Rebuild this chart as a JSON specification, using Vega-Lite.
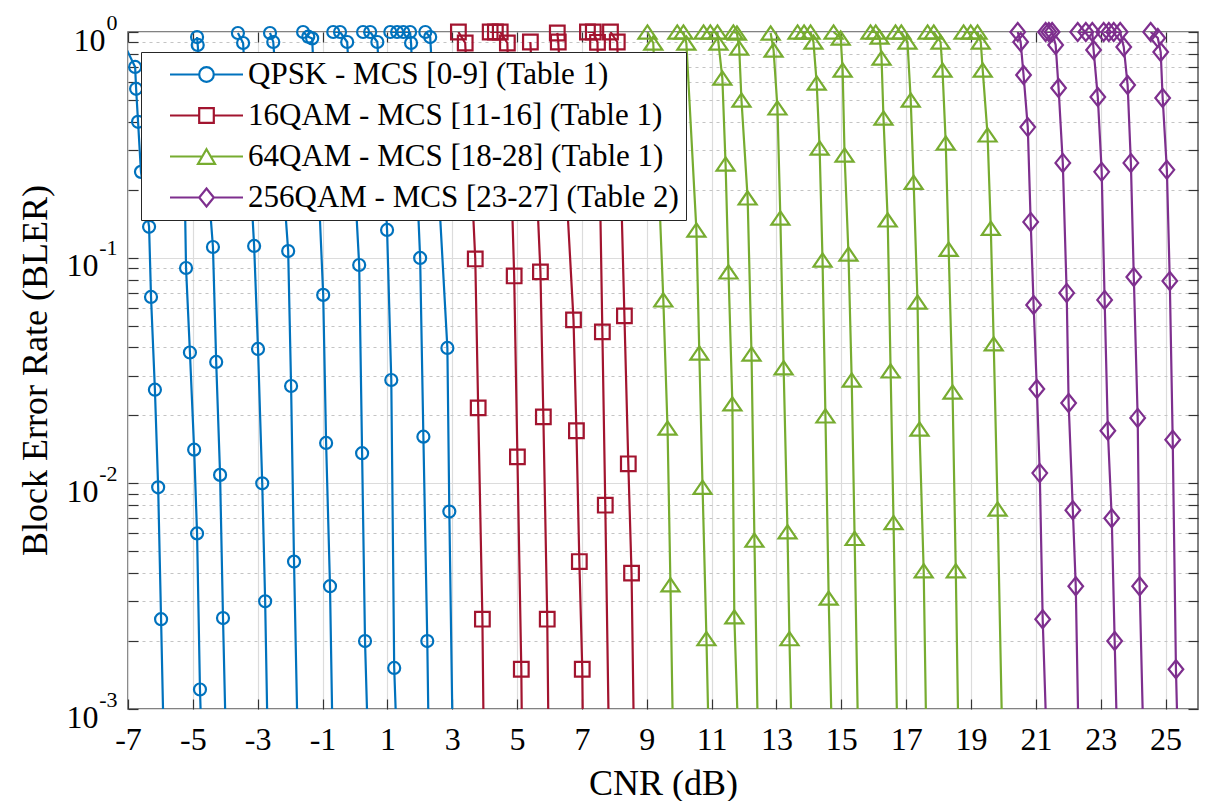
{
 "$schema": "https://vega.github.io/schema/vega-lite/v6.json",
 "width": 1070,
 "height": 677,
 "autosize": {"type": "none"},
 "padding": {"left": 128, "top": 32, "right": 12, "bottom": 92},
 "background": "white",
 "config": {"font": "Liberation Serif", "view": {"stroke": "#5a5a5a", "strokeWidth": 1.5}},
 "data": {"values": [
  {"c":"Q0","m":"QPSK","x":-7.15,"y":0.9},{"c":"Q0","m":"QPSK","x":-6.78,"y":0.70},{"c":"Q0","m":"QPSK","x":-6.75,"y":0.56},{"c":"Q0","m":"QPSK","x":-6.69,"y":0.40},{"c":"Q0","m":"QPSK","x":-6.60,"y":0.24},{"c":"Q0","m":"QPSK","x":-6.35,"y":0.137},{"c":"Q0","m":"QPSK","x":-6.29,"y":0.067},{"c":"Q0","m":"QPSK","x":-6.17,"y":0.026},{"c":"Q0","m":"QPSK","x":-6.07,"y":0.0096},{"c":"Q0","m":"QPSK","x":-5.98,"y":0.0025},{"c":"Q0","m":"QPSK","x":-5.86,"y":0.0004},
  {"c":"Q1","m":"QPSK","x":-5.25,"y":0.2},{"c":"Q1","m":"QPSK","x":-5.21,"y":0.090},{"c":"Q1","m":"QPSK","x":-5.09,"y":0.038},{"c":"Q1","m":"QPSK","x":-4.96,"y":0.0141},{"c":"Q1","m":"QPSK","x":-4.87,"y":0.006},{"c":"Q1","m":"QPSK","x":-4.78,"y":0.00122},{"c":"Q1","m":"QPSK","x":-4.68,"y":0.0004},
  {"c":"Q2","m":"QPSK","x":-4.87,"y":0.95},{"c":"Q2","m":"QPSK","x":-4.85,"y":0.876},{"c":"Q2","m":"QPSK","x":-4.38,"y":0.1115},{"c":"Q2","m":"QPSK","x":-4.28,"y":0.0345},{"c":"Q2","m":"QPSK","x":-4.16,"y":0.0109},{"c":"Q2","m":"QPSK","x":-4.07,"y":0.00253},{"c":"Q2","m":"QPSK","x":-3.94,"y":0.0004},
  {"c":"Q3","m":"QPSK","x":-3.61,"y":0.99},{"c":"Q3","m":"QPSK","x":-3.45,"y":0.894},{"c":"Q3","m":"QPSK","x":-3.11,"y":0.1127},{"c":"Q3","m":"QPSK","x":-2.99,"y":0.0394},{"c":"Q3","m":"QPSK","x":-2.86,"y":0.01},{"c":"Q3","m":"QPSK","x":-2.77,"y":0.003},{"c":"Q3","m":"QPSK","x":-2.66,"y":0.0004},
  {"c":"Q4","m":"QPSK","x":-2.62,"y":0.99},{"c":"Q4","m":"QPSK","x":-2.52,"y":0.903},{"c":"Q4","m":"QPSK","x":-2.06,"y":0.107},{"c":"Q4","m":"QPSK","x":-1.97,"y":0.027},{"c":"Q4","m":"QPSK","x":-1.88,"y":0.0045},{"c":"Q4","m":"QPSK","x":-1.73,"y":0.0004},
  {"c":"Q5","m":"QPSK","x":-1.6,"y":1},{"c":"Q5","m":"QPSK","x":-1.44,"y":0.953},{"c":"Q5","m":"QPSK","x":-1.32,"y":0.937},{"c":"Q5","m":"QPSK","x":-0.98,"y":0.0684},{"c":"Q5","m":"QPSK","x":-0.89,"y":0.0151},{"c":"Q5","m":"QPSK","x":-0.77,"y":0.0035},{"c":"Q5","m":"QPSK","x":-0.66,"y":0.0004},
  {"c":"Q6","m":"QPSK","x":-0.67,"y":1},{"c":"Q6","m":"QPSK","x":-0.46,"y":1},{"c":"Q6","m":"QPSK","x":-0.24,"y":0.903},{"c":"Q6","m":"QPSK","x":0.13,"y":0.0928},{"c":"Q6","m":"QPSK","x":0.22,"y":0.0136},{"c":"Q6","m":"QPSK","x":0.31,"y":0.002},{"c":"Q6","m":"QPSK","x":0.45,"y":0.0004},
  {"c":"Q7","m":"QPSK","x":0.25,"y":1},{"c":"Q7","m":"QPSK","x":0.47,"y":1},{"c":"Q7","m":"QPSK","x":0.69,"y":0.903},{"c":"Q7","m":"QPSK","x":0.99,"y":0.1327},{"c":"Q7","m":"QPSK","x":1.12,"y":0.0287},{"c":"Q7","m":"QPSK","x":1.21,"y":0.00152},{"c":"Q7","m":"QPSK","x":1.35,"y":0.0004},
  {"c":"Q8","m":"QPSK","x":1.09,"y":1},{"c":"Q8","m":"QPSK","x":1.3,"y":1},{"c":"Q8","m":"QPSK","x":1.49,"y":1},{"c":"Q8","m":"QPSK","x":1.7,"y":1},{"c":"Q8","m":"QPSK","x":1.73,"y":0.894},{"c":"Q8","m":"QPSK","x":2.01,"y":0.0997},{"c":"Q8","m":"QPSK","x":2.11,"y":0.0161},{"c":"Q8","m":"QPSK","x":2.23,"y":0.002},{"c":"Q8","m":"QPSK","x":2.3,"y":0.0004},
  {"c":"Q9","m":"QPSK","x":2.17,"y":1},{"c":"Q9","m":"QPSK","x":2.32,"y":0.95},{"c":"Q9","m":"QPSK","x":2.85,"y":0.0398},{"c":"Q9","m":"QPSK","x":2.91,"y":0.0075},{"c":"Q9","m":"QPSK","x":3.04,"y":0.0004},
  {"c":"R0","m":"16QAM","x":3.19,"y":1},{"c":"R0","m":"16QAM","x":3.4,"y":0.894},{"c":"R0","m":"16QAM","x":3.71,"y":0.0987},{"c":"R0","m":"16QAM","x":3.8,"y":0.0216},{"c":"R0","m":"16QAM","x":3.93,"y":0.0025},{"c":"R0","m":"16QAM","x":3.99,"y":0.0004},
  {"c":"R1","m":"16QAM","x":4.17,"y":1},{"c":"R1","m":"16QAM","x":4.33,"y":1},{"c":"R1","m":"16QAM","x":4.48,"y":1},{"c":"R1","m":"16QAM","x":4.7,"y":0.894},{"c":"R1","m":"16QAM","x":4.91,"y":0.083},{"c":"R1","m":"16QAM","x":5.01,"y":0.0131},{"c":"R1","m":"16QAM","x":5.13,"y":0.0015},{"c":"R1","m":"16QAM","x":5.17,"y":0.0004},
  {"c":"R2","m":"16QAM","x":5.41,"y":0.903},{"c":"R2","m":"16QAM","x":5.72,"y":0.0865},{"c":"R2","m":"16QAM","x":5.81,"y":0.0197},{"c":"R2","m":"16QAM","x":5.93,"y":0.0025},{"c":"R2","m":"16QAM","x":5.99,"y":0.0004},
  {"c":"R3","m":"16QAM","x":6.24,"y":0.99},{"c":"R3","m":"16QAM","x":6.27,"y":0.903},{"c":"R3","m":"16QAM","x":6.74,"y":0.053},{"c":"R3","m":"16QAM","x":6.83,"y":0.0171},{"c":"R3","m":"16QAM","x":6.92,"y":0.0045},{"c":"R3","m":"16QAM","x":7.01,"y":0.0015},{"c":"R3","m":"16QAM","x":7.05,"y":0.0004},
  {"c":"R4","m":"16QAM","x":7.17,"y":1},{"c":"R4","m":"16QAM","x":7.35,"y":1},{"c":"R4","m":"16QAM","x":7.48,"y":0.9},{"c":"R4","m":"16QAM","x":7.63,"y":0.0469},{"c":"R4","m":"16QAM","x":7.72,"y":0.008},{"c":"R4","m":"16QAM","x":7.86,"y":0.0004},
  {"c":"R5","m":"16QAM","x":7.88,"y":1},{"c":"R5","m":"16QAM","x":8.09,"y":0.903},{"c":"R5","m":"16QAM","x":8.31,"y":0.0552},{"c":"R5","m":"16QAM","x":8.43,"y":0.0122},{"c":"R5","m":"16QAM","x":8.53,"y":0.004},{"c":"R5","m":"16QAM","x":8.63,"y":0.0004},
  {"c":"G0","m":"64QAM","x":9.02,"y":1},{"c":"G0","m":"64QAM","x":9.2,"y":0.894},{"c":"G0","m":"64QAM","x":9.51,"y":0.065},{"c":"G0","m":"64QAM","x":9.64,"y":0.0176},{"c":"G0","m":"64QAM","x":9.73,"y":0.00355},{"c":"G0","m":"64QAM","x":9.84,"y":0.0004},
  {"c":"G1","m":"64QAM","x":9.94,"y":1},{"c":"G1","m":"64QAM","x":10.13,"y":1},{"c":"G1","m":"64QAM","x":10.22,"y":0.894},{"c":"G1","m":"64QAM","x":10.53,"y":0.1327},{"c":"G1","m":"64QAM","x":10.62,"y":0.0378},{"c":"G1","m":"64QAM","x":10.72,"y":0.0096},{"c":"G1","m":"64QAM","x":10.84,"y":0.00205},{"c":"G1","m":"64QAM","x":10.95,"y":0.0004},
  {"c":"G2","m":"64QAM","x":10.75,"y":1},{"c":"G2","m":"64QAM","x":10.96,"y":1},{"c":"G2","m":"64QAM","x":11.18,"y":1},{"c":"G2","m":"64QAM","x":11.21,"y":0.894},{"c":"G2","m":"64QAM","x":11.33,"y":0.625},{"c":"G2","m":"64QAM","x":11.43,"y":0.26},{"c":"G2","m":"64QAM","x":11.52,"y":0.0865},{"c":"G2","m":"64QAM","x":11.64,"y":0.0225},{"c":"G2","m":"64QAM","x":11.7,"y":0.00256},{"c":"G2","m":"64QAM","x":11.88,"y":0.0004},
  {"c":"G3","m":"64QAM","x":11.67,"y":1},{"c":"G3","m":"64QAM","x":11.78,"y":0.99},{"c":"G3","m":"64QAM","x":11.85,"y":0.849},{"c":"G3","m":"64QAM","x":11.92,"y":0.5},{"c":"G3","m":"64QAM","x":12.11,"y":0.184},{"c":"G3","m":"64QAM","x":12.23,"y":0.0374},{"c":"G3","m":"64QAM","x":12.32,"y":0.0056},{"c":"G3","m":"64QAM","x":12.46,"y":0.0004},
  {"c":"G4","m":"64QAM","x":12.82,"y":0.99},{"c":"G4","m":"64QAM","x":12.91,"y":0.832},{"c":"G4","m":"64QAM","x":13.03,"y":0.461},{"c":"G4","m":"64QAM","x":13.12,"y":0.15},{"c":"G4","m":"64QAM","x":13.22,"y":0.0325},{"c":"G4","m":"64QAM","x":13.34,"y":0.0061},{"c":"G4","m":"64QAM","x":13.4,"y":0.00205},{"c":"G4","m":"64QAM","x":13.51,"y":0.0004},
  {"c":"G5","m":"64QAM","x":13.65,"y":1},{"c":"G5","m":"64QAM","x":13.85,"y":1},{"c":"G5","m":"64QAM","x":14.05,"y":1},{"c":"G5","m":"64QAM","x":14.14,"y":0.903},{"c":"G5","m":"64QAM","x":14.24,"y":0.594},{"c":"G5","m":"64QAM","x":14.33,"y":0.306},{"c":"G5","m":"64QAM","x":14.42,"y":0.0977},{"c":"G5","m":"64QAM","x":14.51,"y":0.0199},{"c":"G5","m":"64QAM","x":14.61,"y":0.0031},{"c":"G5","m":"64QAM","x":14.75,"y":0.0004},
  {"c":"G6","m":"64QAM","x":14.76,"y":1},{"c":"G6","m":"64QAM","x":14.98,"y":0.941},{"c":"G6","m":"64QAM","x":15.04,"y":0.679},{"c":"G6","m":"64QAM","x":15.1,"y":0.285},{"c":"G6","m":"64QAM","x":15.22,"y":0.1038},{"c":"G6","m":"64QAM","x":15.32,"y":0.0287},{"c":"G6","m":"64QAM","x":15.41,"y":0.0057},{"c":"G6","m":"64QAM","x":15.55,"y":0.0004},
  {"c":"G7","m":"64QAM","x":15.9,"y":1},{"c":"G7","m":"64QAM","x":16.06,"y":1},{"c":"G7","m":"64QAM","x":16.18,"y":0.95},{"c":"G7","m":"64QAM","x":16.24,"y":0.767},{"c":"G7","m":"64QAM","x":16.3,"y":0.416},{"c":"G7","m":"64QAM","x":16.43,"y":0.147},{"c":"G7","m":"64QAM","x":16.52,"y":0.0315},{"c":"G7","m":"64QAM","x":16.61,"y":0.0067},{"c":"G7","m":"64QAM","x":16.76,"y":0.0004},
  {"c":"G8","m":"64QAM","x":16.67,"y":1},{"c":"G8","m":"64QAM","x":16.85,"y":1},{"c":"G8","m":"64QAM","x":17.04,"y":0.903},{"c":"G8","m":"64QAM","x":17.14,"y":0.5},{"c":"G8","m":"64QAM","x":17.23,"y":0.216},{"c":"G8","m":"64QAM","x":17.35,"y":0.0636},{"c":"G8","m":"64QAM","x":17.41,"y":0.0174},{"c":"G8","m":"64QAM","x":17.54,"y":0.0041},{"c":"G8","m":"64QAM","x":17.65,"y":0.0004},
  {"c":"G9","m":"64QAM","x":17.66,"y":1},{"c":"G9","m":"64QAM","x":17.85,"y":1},{"c":"G9","m":"64QAM","x":18.06,"y":0.903},{"c":"G9","m":"64QAM","x":18.12,"y":0.679},{"c":"G9","m":"64QAM","x":18.22,"y":0.322},{"c":"G9","m":"64QAM","x":18.31,"y":0.109},{"c":"G9","m":"64QAM","x":18.43,"y":0.0254},{"c":"G9","m":"64QAM","x":18.53,"y":0.0041},{"c":"G9","m":"64QAM","x":18.64,"y":0.0004},
  {"c":"G10","m":"64QAM","x":18.77,"y":1},{"c":"G10","m":"64QAM","x":18.99,"y":1},{"c":"G10","m":"64QAM","x":19.2,"y":1},{"c":"G10","m":"64QAM","x":19.3,"y":0.903},{"c":"G10","m":"64QAM","x":19.36,"y":0.679},{"c":"G10","m":"64QAM","x":19.51,"y":0.35},{"c":"G10","m":"64QAM","x":19.61,"y":0.135},{"c":"G10","m":"64QAM","x":19.7,"y":0.0415},{"c":"G10","m":"64QAM","x":19.82,"y":0.0077},{"c":"G10","m":"64QAM","x":20.0,"y":0.0004},
  {"c":"P0","m":"256QAM","x":20.44,"y":1},{"c":"P0","m":"256QAM","x":20.53,"y":0.903},{"c":"P0","m":"256QAM","x":20.62,"y":0.645},{"c":"P0","m":"256QAM","x":20.75,"y":0.379},{"c":"P0","m":"256QAM","x":20.84,"y":0.144},{"c":"P0","m":"256QAM","x":20.93,"y":0.0617},{"c":"P0","m":"256QAM","x":21.03,"y":0.0262},{"c":"P0","m":"256QAM","x":21.12,"y":0.0111},{"c":"P0","m":"256QAM","x":21.21,"y":0.0025},{"c":"P0","m":"256QAM","x":21.39,"y":0.0004},
  {"c":"P1","m":"256QAM","x":21.3,"y":1},{"c":"P1","m":"256QAM","x":21.4,"y":1},{"c":"P1","m":"256QAM","x":21.5,"y":1},{"c":"P1","m":"256QAM","x":21.61,"y":0.876},{"c":"P1","m":"256QAM","x":21.7,"y":0.565},{"c":"P1","m":"256QAM","x":21.83,"y":0.263},{"c":"P1","m":"256QAM","x":21.95,"y":0.0698},{"c":"P1","m":"256QAM","x":22.01,"y":0.0227},{"c":"P1","m":"256QAM","x":22.14,"y":0.0076},{"c":"P1","m":"256QAM","x":22.23,"y":0.0035},{"c":"P1","m":"256QAM","x":22.35,"y":0.0004},
  {"c":"P2","m":"256QAM","x":22.29,"y":1},{"c":"P2","m":"256QAM","x":22.54,"y":1},{"c":"P2","m":"256QAM","x":22.74,"y":1},{"c":"P2","m":"256QAM","x":22.78,"y":0.832},{"c":"P2","m":"256QAM","x":22.91,"y":0.515},{"c":"P2","m":"256QAM","x":23.03,"y":0.24},{"c":"P2","m":"256QAM","x":23.12,"y":0.065},{"c":"P2","m":"256QAM","x":23.22,"y":0.0171},{"c":"P2","m":"256QAM","x":23.34,"y":0.007},{"c":"P2","m":"256QAM","x":23.43,"y":0.002},{"c":"P2","m":"256QAM","x":23.55,"y":0.0004},
  {"c":"P3","m":"256QAM","x":23.09,"y":1},{"c":"P3","m":"256QAM","x":23.25,"y":1},{"c":"P3","m":"256QAM","x":23.4,"y":1},{"c":"P3","m":"256QAM","x":23.6,"y":1},{"c":"P3","m":"256QAM","x":23.71,"y":0.858},{"c":"P3","m":"256QAM","x":23.83,"y":0.582},{"c":"P3","m":"256QAM","x":23.93,"y":0.263},{"c":"P3","m":"256QAM","x":24.02,"y":0.0821},{"c":"P3","m":"256QAM","x":24.14,"y":0.0195},{"c":"P3","m":"256QAM","x":24.2,"y":0.0035},{"c":"P3","m":"256QAM","x":24.36,"y":0.0004},
  {"c":"P4","m":"256QAM","x":24.54,"y":1},{"c":"P4","m":"256QAM","x":24.76,"y":0.941},{"c":"P4","m":"256QAM","x":24.85,"y":0.815},{"c":"P4","m":"256QAM","x":24.91,"y":0.51},{"c":"P4","m":"256QAM","x":25.04,"y":0.245},{"c":"P4","m":"256QAM","x":25.13,"y":0.0788},{"c":"P4","m":"256QAM","x":25.22,"y":0.0156},{"c":"P4","m":"256QAM","x":25.32,"y":0.0015},{"c":"P4","m":"256QAM","x":25.42,"y":0.0004}
 ]},
 "resolve": {"axis": {"x": "independent", "y": "independent"}, "scale": {"color": "independent", "shape": "independent"}},
 "layer": [
  {
   "mark": {"type": "line", "clip": true, "strokeWidth": 2.2},
   "encoding": {
    "x": {"field": "x", "type": "quantitative", "scale": {"domain": [-7, 26], "nice": false, "zero": false},
     "axis": {"orient": "bottom", "values": [-7,-5,-3,-1,1,3,5,7,9,11,13,15,17,19,21,23,25],
      "labelExpr": "datum.value < 0 ? '-' + abs(datum.value) : '' + datum.value",
      "labelFont": "Liberation Serif", "labelFontSize": 32, "labelColor": "#000", "labelPadding": 15,
      "labelFlush": false, "labelOverlap": false, "ticks": false, "domain": false,
      "grid": true, "gridColor": "#dcdcdc", "gridWidth": 1.2,
      "title": "CNR (dB)", "titleFont": "Liberation Serif", "titleFontSize": 36, "titleFontWeight": "normal", "titleColor": "#000",
      "titleX": 535, "titleY": 85, "titleBaseline": "alphabetic", "titleAlign": "center"}},
    "y": {"field": "y", "type": "quantitative", "scale": {"type": "log", "domain": [0.001, 1], "nice": false},
     "axis": {"orient": "left", "values": [0.001,0.002,0.003,0.004,0.005,0.006,0.007,0.008,0.009,0.01,0.02,0.03,0.04,0.05,0.06,0.07,0.08,0.09,0.1,0.2,0.3,0.4,0.5,0.6,0.7,0.8,0.9,1],
      "labelExpr": "abs(log(datum.value)/LN10 - round(log(datum.value)/LN10)) > 0.01 ? '' : '10'",
      "labelFont": "Liberation Serif", "labelFontSize": 32, "labelColor": "#000",
      "labelPadding": {"condition": {"test": "datum.value > 0.5", "value": 23}, "value": 30},
      "labelOffset": 8, "labelOverlap": false, "labelAlign": "right", "labelBaseline": "middle",
      "ticks": false, "domain": false, "grid": true,
      "gridColor": {"condition": {"test": "abs(log(datum.value)/LN10 - round(log(datum.value)/LN10)) > 0.01", "value": "#c4c4c4"}, "value": "#dcdcdc"},
      "gridDash": {"condition": {"test": "abs(log(datum.value)/LN10 - round(log(datum.value)/LN10)) > 0.01", "value": [3, 4]}, "value": []},
      "gridWidth": 1.2,
      "title": "Block Error Rate (BLER)", "titleFont": "Liberation Serif", "titleFontSize": 36, "titleFontWeight": "normal", "titleColor": "#000",
      "titleX": -93, "titleY": 338, "titleAngle": -90, "titleAlign": "center", "titleBaseline": "middle"}},
    "color": {"field": "m", "type": "nominal", "scale": {"domain": ["QPSK","16QAM","64QAM","256QAM"], "range": ["#0072BD","#A2142F","#77AC30","#7E2F8E"]}, "legend": null},
    "detail": {"field": "c", "type": "nominal"}
   }
  },
  {
   "transform": [{"filter": "datum.y >= 0.001 && datum.x >= -7"}],
   "mark": {"type": "point", "filled": false, "strokeWidth": 2.2, "opacity": 1, "size": 144},
   "encoding": {
    "x": {"field": "x", "type": "quantitative", "axis": null},
    "y": {"field": "y", "type": "quantitative",
     "axis": {"orient": "left", "values": [0.001,0.01,0.1,1],
      "labelExpr": "round(log(datum.value)/LN10) == 0 ? '0' : '-' + abs(round(log(datum.value)/LN10))",
      "labelFont": "Liberation Serif", "labelFontSize": 22, "labelColor": "#000", "labelPadding": 11, "labelOffset": -10,
      "labelAlign": "right", "labelBaseline": "middle", "labelOverlap": false, "ticks": false, "domain": false, "grid": false, "title": null}},
    "color": {"field": "m", "type": "nominal", "scale": {"domain": ["QPSK","16QAM","64QAM","256QAM"], "range": ["#0072BD","#A2142F","#77AC30","#7E2F8E"]}, "legend": null},
    "shape": {"field": "m", "type": "nominal", "scale": {"domain": ["QPSK","16QAM","64QAM","256QAM"], "range": ["circle", "M-1.22,-1.22H1.22V1.22H-1.22Z", "M0,-1.1L1.5,1.1H-1.5Z", "M0,-1.5L1.22,0L0,1.5L-1.22,0Z"]}, "legend": null}
   }
  },
  {
   "data": {"values": [{"lab": "QPSK - MCS [0-9] (Table 1)"}, {"lab": "16QAM - MCS [11-16] (Table 1)"}, {"lab": "64QAM - MCS [18-28] (Table 1)"}, {"lab": "256QAM - MCS [23-27] (Table 2)"}]},
   "transform": [{"filter": "false"}],
   "mark": {"type": "point", "filled": false, "opacity": 1, "strokeWidth": 2.2},
   "encoding": {
    "x": {"field": "x", "type": "quantitative", "axis": {"orient": "top", "values": [-7,-5,-3,-1,1,3,5,7,9,11,13,15,17,19,21,23,25], "labels": false, "grid": false, "domain": false, "ticks": true, "tickSize": -10, "tickColor": "#333", "tickWidth": 1.2, "title": null}},
    "y": {"field": "y", "type": "quantitative", "axis": {"orient": "right", "values": [0.001,0.002,0.003,0.004,0.005,0.006,0.007,0.008,0.009,0.01,0.02,0.03,0.04,0.05,0.06,0.07,0.08,0.09,0.1,0.2,0.3,0.4,0.5,0.6,0.7,0.8,0.9,1], "labels": false, "grid": false, "domain": false, "ticks": true, "tickSize": -10, "tickColor": "#333", "tickWidth": 1.2, "title": null}},
    "color": {"field": "lab", "type": "nominal", "scale": {"domain": ["QPSK - MCS [0-9] (Table 1)", "16QAM - MCS [11-16] (Table 1)", "64QAM - MCS [18-28] (Table 1)", "256QAM - MCS [23-27] (Table 2)"], "range": ["#0072BD","#A2142F","#77AC30","#7E2F8E"]},
     "legend": {"title": null, "orient": "none", "legendX": 13, "legendY": 20, "padding": 7, "rowPadding": 9, "fillColor": "white", "strokeColor": "#262626", "symbolSize": 400, "symbolStrokeWidth": 2.2, "symbolOffset": 43, "labelOffset": 26, "labelFont": "Liberation Serif", "labelFontSize": 31, "labelColor": "#000", "labelLimit": 1000}},
    "shape": {"field": "lab", "type": "nominal", "scale": {"domain": ["QPSK - MCS [0-9] (Table 1)", "16QAM - MCS [11-16] (Table 1)", "64QAM - MCS [18-28] (Table 1)", "256QAM - MCS [23-27] (Table 2)"], "range": ["M-3.65,0H-0.73M0.73,0H3.65M-0.73,0A0.73,0.73,0,1,1,0.73,0A0.73,0.73,0,1,1,-0.73,0", "M-3.65,0H-0.73M0.73,0H3.65M-0.73,-0.73H0.73V0.73H-0.73Z", "M-3.65,0H-0.43M0.43,0H3.65M0,-0.73L0.85,0.73H-0.85Z", "M-3.65,0H-0.73M0.73,0H3.65M0,-0.9L0.73,0L0,0.9L-0.73,0Z"]},
     "legend": {"title": null, "orient": "none", "legendX": 13, "legendY": 20, "padding": 7, "rowPadding": 9, "fillColor": "white", "strokeColor": "#262626", "symbolSize": 400, "symbolStrokeWidth": 2.2, "symbolOffset": 43, "labelOffset": 26, "labelFont": "Liberation Serif", "labelFontSize": 31, "labelColor": "#000", "labelLimit": 1000}}
   }
  },
  {
   "transform": [{"filter": "false"}],
   "mark": {"type": "point", "opacity": 1},
   "encoding": {
    "x": {"field": "x", "type": "quantitative", "axis": {"orient": "bottom", "values": [-7,-5,-3,-1,1,3,5,7,9,11,13,15,17,19,21,23,25], "labels": false, "grid": false, "domain": false, "ticks": true, "tickSize": -10, "tickColor": "#333", "tickWidth": 1.2, "title": null}},
    "y": {"field": "y", "type": "quantitative", "axis": {"orient": "left", "values": [0.001,0.002,0.003,0.004,0.005,0.006,0.007,0.008,0.009,0.01,0.02,0.03,0.04,0.05,0.06,0.07,0.08,0.09,0.1,0.2,0.3,0.4,0.5,0.6,0.7,0.8,0.9,1], "labels": false, "grid": false, "domain": false, "ticks": true, "tickSize": -10, "tickColor": "#333", "tickWidth": 1.2, "title": null}}
   }
  }
 ]
}
